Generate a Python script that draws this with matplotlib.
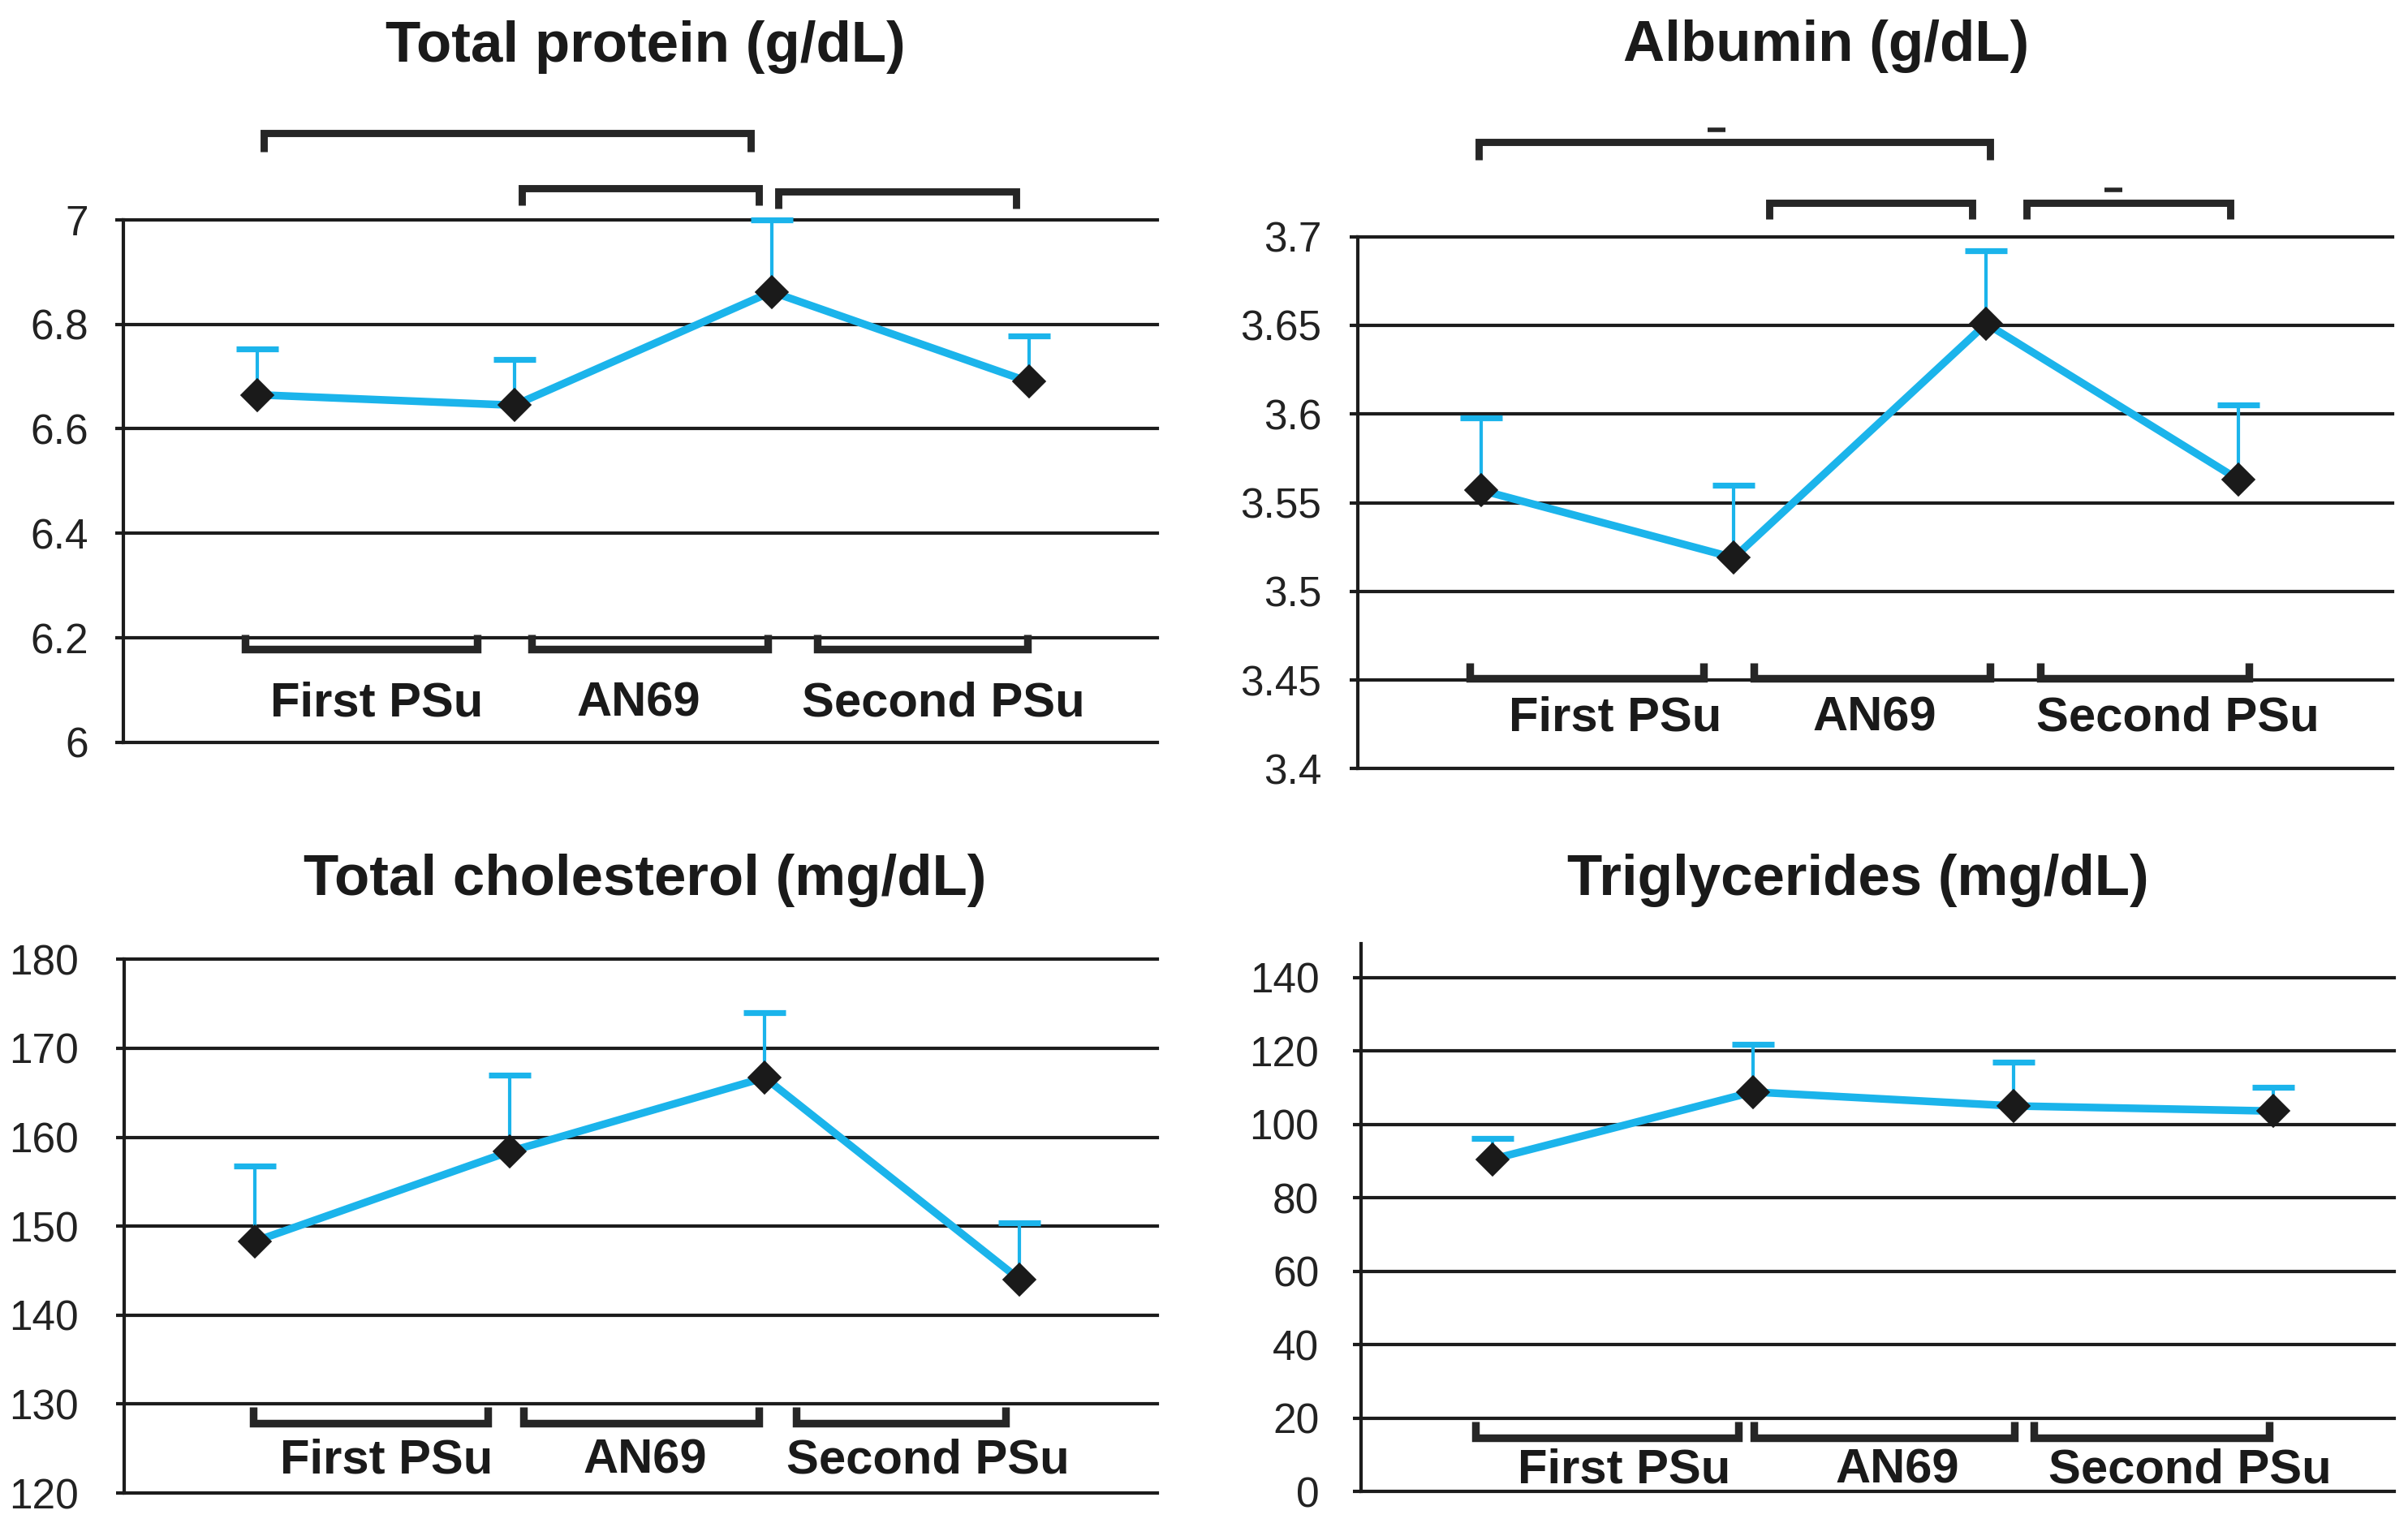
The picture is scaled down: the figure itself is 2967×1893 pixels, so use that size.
import matplotlib
matplotlib.use("Agg")
import matplotlib.pyplot as plt
from matplotlib.lines import Line2D
import numpy as np

# ---------------- data ----------------
timepoints = [0, 1, 2, 3]
periods = ["First PSu", "AN69", "Second PSu"]

titles = ["Total protein (g/dL)", "Albumin (g/dL)",
          "Total cholesterol (mg/dL)", "Triglycerides (mg/dL)"]

protein_mean = [6.665, 6.645, 6.862, 6.690]
protein_sd = [0.087, 0.088, 0.137, 0.088]
protein_ticks = [6.0, 6.2, 6.4, 6.6, 6.8, 7.0]
protein_ticklabels = ["6", "6.2", "6.4", "6.6", "6.8", "7"]

albumin_mean = [3.557, 3.519, 3.651, 3.563]
albumin_sd = [0.041, 0.041, 0.041, 0.042]
albumin_ticks = [3.4, 3.45, 3.5, 3.55, 3.6, 3.65, 3.7]
albumin_ticklabels = ["3.4", "3.45", "3.5", "3.55", "3.6", "3.65", "3.7"]

chol_mean = [148.3, 158.4, 166.7, 144.0]
chol_sd = [8.5, 8.6, 7.3, 6.4]
chol_ticks = [120, 130, 140, 150, 160, 170, 180]
chol_ticklabels = ["120", "130", "140", "150", "160", "170", "180"]

tg_mean = [90.5, 108.8, 105.0, 103.6]
tg_sd = [5.6, 12.9, 12.0, 6.5]
tg_ticks = [0, 20, 40, 60, 80, 100, 120, 140]
tg_ticklabels = ["0", "20", "40", "60", "80", "100", "120", "140"]

# ---------------- style / layout ----------------
W, H = 2967, 1893
DPI = 200
BLUE = "#1BB4EB"
INK = "#1c1c1c"
FONT = ["Liberation Sans", "DejaVu Sans"]

plt.rcParams["font.family"] = FONT

fig = plt.figure(figsize=(W / DPI, H / DPI), dpi=DPI)
fig.patch.set_facecolor("white")


def fx(x):
    return x / W


def fy(y):
    return 1 - y / H


def fline(xs, ys, lw=3.2, color="#262626"):
    ln = Line2D([fx(v) for v in xs], [fy(v) for v in ys], transform=fig.transFigure,
                color=color, lw=lw, solid_joinstyle="miter", solid_capstyle="butt")
    fig.add_artist(ln)


def bracket_down(x0, x1, y, yend):
    fline([x0, x0, x1, x1], [yend, y, y, yend])


def bracket_up(x0, x1, y, yend):
    fline([x0, x0, x1, x1], [yend, y, y, yend], lw=3.4)


panels = [
    dict(mean=protein_mean, sd=protein_sd, ticks=protein_ticks, tl=protein_ticklabels,
         rect=(152, 1426, 270.7, 915), ylim=(6.0, 7.0), xlim=(-0.52, 3.50), pad=12,
         title_xy=(795, 76), label_y=882, label_x=(464, 787, 1162),
         low=[(302, 588), (655, 946), (1007, 1266)], low_y=(800, 782),
         top=[(325, 925, 164, 187), (643, 935, 232, 253), (959, 1252, 236, 257)],
         dashes=[]),
    dict(mean=albumin_mean, sd=albumin_sd, ticks=albumin_ticks, tl=albumin_ticklabels,
         rect=(1673, 2948, 291.7, 947.5), ylim=(3.4, 3.7), xlim=(-0.49, 3.61), pad=12.5,
         title_xy=(2250, 75), label_y=900, label_x=(1990, 2310, 2683),
         low=[(1811, 2099), (2161, 2452), (2514, 2771)], low_y=(836, 817),
         top=[(1822, 2452, 175, 197), (2180, 2430, 250, 270), (2497, 2748, 250, 270)],
         dashes=[(2115, 160), (2604, 234)]),
    dict(mean=chol_mean, sd=chol_sd, ticks=chol_ticks, tl=chol_ticklabels,
         rect=(153, 1426, 1182.3, 1840), ylim=(120, 180), xlim=(-0.513, 3.54), pad=16.5,
         title_xy=(795, 1103), label_y=1816, label_x=(476, 795, 1143),
         low=[(312, 601), (645, 935), (981, 1239)], low_y=(1754, 1734),
         top=[], dashes=[]),
    dict(mean=tg_mean, sd=tg_sd, ticks=tg_ticks, tl=tg_ticklabels,
         rect=(1677, 2950, 1163, 1838), ylim=(0, 149.2), xlim=(-0.506, 3.464), pad=15,
         title_xy=(2289, 1103), label_y=1828, label_x=(2001, 2338, 2698),
         low=[(1818, 2142), (2161, 2482), (2506, 2796)], low_y=(1772, 1752),
         top=[], dashes=[]),
]

for title, p in zip(titles, panels):
    l, r, t, b = p["rect"]
    ax = fig.add_axes([fx(l), fy(b), (r - l) / W, (b - t) / H])
    ax.set_xlim(*p["xlim"])
    ax.set_ylim(*p["ylim"])
    ax.set_facecolor("none")
    for s in ("top", "right", "bottom"):
        ax.spines[s].set_visible(False)
    ax.spines["left"].set_linewidth(1.5)
    ax.spines["left"].set_color(INK)
    ax.set_xticks([])
    ax.set_yticks(p["ticks"])
    ax.set_yticklabels(p["tl"])
    ax.tick_params(axis="y", length=3.6, width=1.5, color=INK, pad=p["pad"],
                   labelsize=18.5, labelcolor="#222222")
    ax.set_axisbelow(True)
    ax.yaxis.grid(True, color=INK, lw=1.5)
    for gl in ax.yaxis.get_gridlines():
        gl.set_clip_on(False)

    x = np.array(timepoints, dtype=float)
    m = np.array(p["mean"])
    sd = np.array(p["sd"])
    eb = ax.errorbar(x, m, yerr=[np.zeros_like(sd), sd], fmt="none", ecolor=BLUE,
                     elinewidth=1.5, capsize=9.5, capthick=2.6, zorder=3)
    _, caplines, barcols = eb.lines
    for cl in caplines:
        cl.set_clip_on(False)
        if np.allclose(np.asarray(cl.get_ydata(), dtype=float), m):
            cl.set_visible(False)
    for bc in barcols:
        bc.set_clip_on(False)
    ax.plot(x, m, color=BLUE, lw=3.4, zorder=4, clip_on=False, solid_capstyle="round")
    ax.plot(x, m, linestyle="none", marker="D", markersize=10, color="#1a1a1a",
            markeredgecolor="#1a1a1a", markeredgewidth=0.6, zorder=5, clip_on=False)

    tx, ty = p["title_xy"]
    fig.text(fx(tx), fy(ty), title, ha="center", va="baseline", fontsize=25.5,
             fontweight="bold", color="#1a1a1a")
    for lab, lx in zip(periods, p["label_x"]):
        fig.text(fx(lx), fy(p["label_y"]), lab, ha="center", va="baseline",
                 fontsize=21.5, fontweight="bold", color="#1a1a1a")

    ly, lt = p["low_y"]
    for x0, x1 in p["low"]:
        bracket_up(x0, x1, ly, lt)
    for x0, x1, y, ye in p["top"]:
        bracket_down(x0, x1, y, ye)
    for dxp, dyp in p["dashes"]:
        fline([dxp - 11, dxp + 11], [dyp, dyp], lw=2.0)

fig.savefig("out.png", dpi=DPI, facecolor="white")
